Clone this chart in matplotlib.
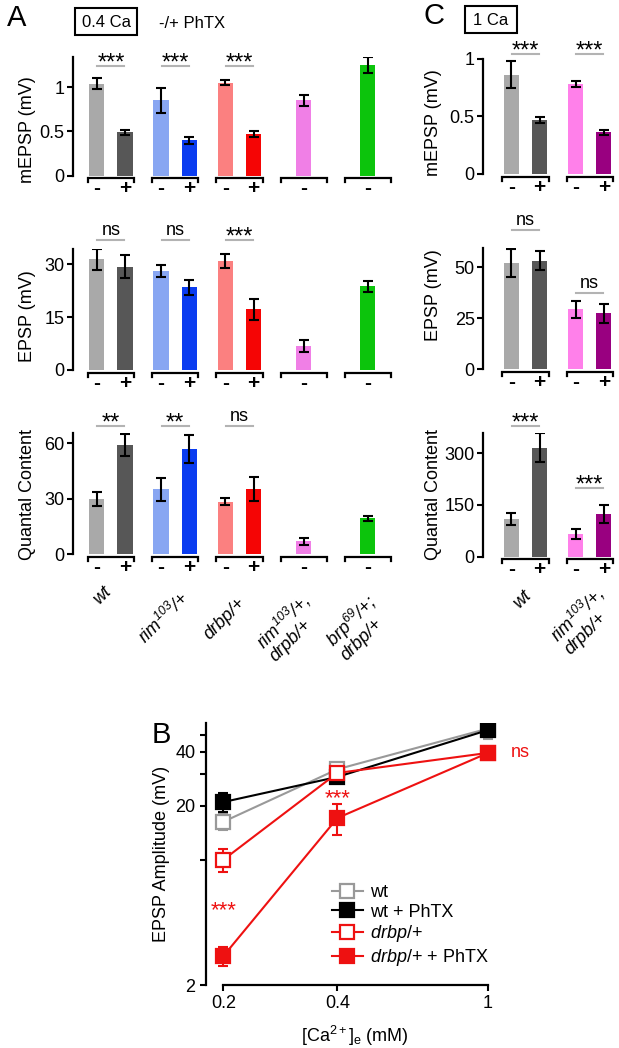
import matplotlib
matplotlib.use('Agg')
import matplotlib.pyplot as plt
import matplotlib.transforms as mtrans
from matplotlib.patches import Rectangle
from matplotlib.ticker import NullLocator

plt.rcParams['font.family'] = ['Liberation Sans', 'DejaVu Sans']
plt.rcParams['mathtext.fontset'] = 'custom'
plt.rcParams['mathtext.rm'] = 'Liberation Sans'
plt.rcParams['mathtext.it'] = 'Liberation Sans:italic'
plt.rcParams['mathtext.bf'] = 'Liberation Sans:bold'
plt.rcParams['mathtext.default'] = 'regular'

# ---------------- data: panel A (0.4 Ca) ----------------
A_genotypes = ['wt', 'rim$^{103}$/+', 'drbp/+', 'rim$^{103}$/+,\ndrpb/+', 'brp$^{69}$/+;\ndrbp/+']
A_bar_group = [0, 0, 1, 1, 2, 2, 3, 4]
A_bar_sign = ['-', '+', '-', '+', '-', '+', '-', '-']
A_colors = ['#a9a9a9', '#575757', '#88a6f2', '#0a3cf0', '#fb8080', '#f50505', '#f07fe6', '#0cc40c']
A_mepsp = [1.04, 0.49, 0.85, 0.40, 1.05, 0.47, 0.85, 1.25]
A_mepsp_err = [0.06, 0.03, 0.14, 0.04, 0.03, 0.03, 0.06, 0.09]
A_epsp = [31.4, 29.3, 28.1, 23.4, 30.8, 17.2, 6.8, 23.7]
A_epsp_err = [3.0, 3.3, 1.7, 2.2, 2.0, 2.9, 1.8, 1.6]
A_qc = [30.0, 59.0, 35.1, 57.0, 28.4, 35.3, 7.0, 19.5]
A_qc_err = [3.8, 6.0, 6.3, 7.6, 1.9, 6.5, 2.0, 1.4]
A_mepsp_sig = ['***', '***', '***']
A_epsp_sig = ['ns', 'ns', '***']
A_qc_sig = ['**', '**', 'ns']

# ---------------- data: panel C (1 Ca) ----------------
C_genotypes = ['wt', 'rim$^{103}$/+,\ndrpb/+']
C_bar_group = [0, 0, 1, 1]
C_bar_sign = ['-', '+', '-', '+']
C_colors = ['#a9a9a9', '#575757', '#ff80ea', '#990080']
C_mepsp = [0.86, 0.47, 0.78, 0.36]
C_mepsp_err = [0.115, 0.025, 0.03, 0.025]
C_epsp = [52.1, 53.3, 29.4, 27.4]
C_epsp_err = [7.0, 4.7, 4.3, 4.5]
C_qc = [109, 316, 65, 123]
C_qc_err = [17, 42, 15, 26]
C_mepsp_sig = ['***', '***']
C_epsp_sig = ['ns', 'ns']
C_qc_sig = ['***', '***']

# ---------------- data: panel B ----------------
B_ca = [0.2, 0.4, 1.0]
B_wt = [16.3, 32.0, 54.0]
B_wt_err = [1.6, 2.0, 6.5]
B_wt_phtx = [21.0, 29.0, 53.0]
B_wt_phtx_err = [2.6, 2.3, 3.0]
B_drbp = [10.0, 30.5, 39.5]
B_drbp_err = [1.5, 2.0, 2.0]
B_drbp_phtx = [2.9, 17.1, 39.5]
B_drbp_phtx_err = [0.35, 3.3, 2.5]

W, H = 619, 1048
fig = plt.figure(figsize=(W / 100, H / 100), dpi=100)
FS = 13


def add_ax(left, top, right, bottom):
    return fig.add_axes([left / W, 1 - bottom / H, (right - left) / W, (bottom - top) / H])


def ftext(x, y, s, **kw):
    return fig.text(x / W, 1 - y / H, s, **kw)


def bar_panel(ax, bar_group, signs, colors, vals, errs, sig, sig_y, ticks, ticklabels,
              xlim, ylim, ngroups):
    ax.set_xlim(*xlim)
    ax.set_ylim(*ylim)
    counts = [bar_group.count(g) for g in range(ngroups)]
    xs = []
    for i, g in enumerate(bar_group):
        if counts[g] == 2:
            first = bar_group.index(g) == i
            xs.append(g - 0.22 if first else g + 0.22)
        else:
            xs.append(g)
    ax.bar(xs, vals, width=0.235, color=colors, zorder=2)
    ax.errorbar(xs, vals, yerr=errs, fmt='none', ecolor='black', elinewidth=1.5,
                capsize=3.3, capthick=1.5, zorder=3)
    for x, s in zip(xs, signs):
        ax.annotate(s, xy=(x, 0), xycoords=('data', 'axes fraction'), xytext=(0, -9.5),
                    textcoords='offset points', ha='center', va='center',
                    fontsize=15, fontweight='bold')
    bbox = ax.get_position()
    hpx = bbox.height * H
    trans = mtrans.blended_transform_factory(ax.transData, ax.transAxes) + \
        mtrans.ScaledTranslation(0, -2.5 / 100, fig.dpi_scale_trans)
    tk = 4.0 / hpx
    for g in range(ngroups):
        ax.plot([g - 0.36, g - 0.36, g + 0.36, g + 0.36], [-tk, 0, 0, -tk], color='black',
                lw=1.6, transform=trans, clip_on=False, solid_joinstyle='miter')
    for g, (s, y) in enumerate(zip(sig, sig_y)):
        ax.plot([g - 0.21, g + 0.21], [y, y], color='#b3b3b3', lw=1.5, clip_on=False)
        if s == 'ns':
            ax.annotate(s, xy=(g, y), xytext=(0, 3.5), textcoords='offset points',
                        ha='center', va='baseline', fontsize=FS, annotation_clip=False)
        else:
            ax.annotate(s, xy=(g, y), xytext=(0, -2.5), textcoords='offset points',
                        ha='center', va='baseline', fontsize=17, annotation_clip=False)
    ax.set_yticks(ticks)
    ax.set_yticklabels(ticklabels, fontsize=FS)
    ax.set_xticks([])
    for sp in ['top', 'right', 'bottom']:
        ax.spines[sp].set_visible(False)
    ax.spines['left'].set_linewidth(1.6)
    ax.tick_params(axis='y', length=4, width=1.5, pad=2)
    return xs


A_left, A_right = 73, 73 + (4.45 + 0.59) * 64.25
A_xlim = (-0.59, 4.45)
axA1 = add_ax(A_left, 57, A_right, 175.7)
bar_panel(axA1, A_bar_group, A_bar_sign, A_colors, A_mepsp, A_mepsp_err, A_mepsp_sig,
          [1.24] * 3, [0, 0.5, 1], ['0', '0.5', '1'], A_xlim, (0, 1.34), 5)
axA2 = add_ax(A_left, 249, A_right, 370)
bar_panel(axA2, A_bar_group, A_bar_sign, A_colors, A_epsp, A_epsp_err, A_epsp_sig,
          [36.8] * 3, [0, 15, 30], ['0', '15', '30'], A_xlim, (0, 34.3), 5)
axA3 = add_ax(A_left, 433, A_right, 554.3)
bar_panel(axA3, A_bar_group, A_bar_sign, A_colors, A_qc, A_qc_err, A_qc_sig,
          [69.4] * 3, [0, 30, 60], ['0', '30', '60'], A_xlim, (0, 65.6), 5)

C_left, C_right = 483, 483 + (1.4 + 0.66) * 64.25
C_xlim = (-0.66, 1.4)
axC1 = add_ax(C_left, 58.6, C_right, 174)
bar_panel(axC1, C_bar_group, C_bar_sign, C_colors, C_mepsp, C_mepsp_err, C_mepsp_sig,
          [1.04, 1.04], [0, 0.5, 1], ['0', '0.5', '1'], C_xlim, (0, 1.0), 2)
axC2 = add_ax(C_left, 248, C_right, 369)
bar_panel(axC2, C_bar_group, C_bar_sign, C_colors, C_epsp, C_epsp_err, C_epsp_sig,
          [68.5, 37.6], [0, 25, 50], ['0', '25', '50'], C_xlim, (0, 59.6), 2)
axC3 = add_ax(C_left, 433.3, C_right, 556.7)
bar_panel(axC3, C_bar_group, C_bar_sign, C_colors, C_qc, C_qc_err, C_qc_sig,
          [379, 198], [0, 150, 300], ['0', '150', '300'], C_xlim, (0, 358), 2)

# genotype labels (offsets in pixels from group centre at axis zero)
A_lab_off = [(-8, -29), (4, -34), (-2.5, -40), (-5, -36), (-3, -36)]
for g, (lab, (dx, dy)) in enumerate(zip(A_genotypes, A_lab_off)):
    axA3.annotate(lab, xy=(g, 0), xycoords=('data', 'axes fraction'),
                  xytext=(dx * 0.72, dy * 0.72), textcoords='offset points',
                  rotation=45, rotation_mode='anchor', ha='right', va='top',
                  multialignment='left', fontsize=13, fontstyle='italic', linespacing=1.0)
C_lab_off = [(-2.5, -30), (3.5, -26)]
for g, (lab, (dx, dy)) in enumerate(zip(C_genotypes, C_lab_off)):
    axC3.annotate(lab, xy=(g, 0), xycoords=('data', 'axes fraction'),
                  xytext=(dx * 0.72, dy * 0.72), textcoords='offset points',
                  rotation=45, rotation_mode='anchor', ha='right', va='top',
                  multialignment='left', fontsize=13, fontstyle='italic', linespacing=1.0)

for (x, y, s) in [(27, 130, 'mEPSP (mV)'), (27, 316, 'EPSP (mV)'), (27, 494, 'Quantal Content'),
                  (433, 123, 'mEPSP (mV)'), (433, 295, 'EPSP (mV)'), (433, 495, 'Quantal Content')]:
    ftext(x, y, s, rotation=90, ha='center', va='center', fontsize=FS)

ftext(17, 18, 'A', fontsize=21, ha='center', va='center')
ftext(434, 16, 'C', fontsize=21, ha='center', va='center')
ftext(161, 735, 'B', fontsize=21, ha='center', va='center')
for (l, t, r, b, s) in [(75, 8, 137, 35, '0.4 Ca'), (465, 6, 517, 33, '1 Ca')]:
    fig.patches.append(Rectangle((l / W, 1 - b / H), (r - l) / W, (b - t) / H,
                                 transform=fig.transFigure, fill=False, lw=1.5,
                                 edgecolor='black'))
    ftext((l + r) / 2, (t + b) / 2 + 1, s, fontsize=12, ha='center', va='center')
ftext(192, 23, '-/+ PhTX', fontsize=12, ha='center', va='center')

# ---------------- panel B ----------------
axB = add_ax(206, 723, 500, 985)
axB.set_xscale('log')
axB.set_yscale('log')
axB.set_xlim(0.18, 1.075)
axB.set_ylim(2, 58)
series = [
    (B_wt, B_wt_err, '#999999', 'white', 'wt'),
    (B_wt_phtx, B_wt_phtx_err, 'black', 'black', 'wt + PhTX'),
    (B_drbp, B_drbp_err, '#ee1111', 'white', r'$\mathit{drbp}$/+'),
    (B_drbp_phtx, B_drbp_phtx_err, '#ee1111', '#ee1111', r'$\mathit{drbp}$/+ + PhTX'),
]
for vals, errs, col, face, lab in series:
    axB.errorbar(B_ca, vals, yerr=errs, fmt='none', ecolor=col, elinewidth=1.5,
                 capsize=3.5, capthick=1.5, zorder=2)
for vals, errs, col, face, lab in series:
    axB.plot(B_ca, vals, '-s', color=col, mfc=face, mec=col, ms=9.5, mew=1.6, lw=1.5,
             label=lab, zorder=3)
axB.set_xticks(B_ca)
axB.set_xticklabels(['0.2', '0.4', '1'], fontsize=FS)
axB.xaxis.set_minor_locator(NullLocator())
axB.set_yticks([2, 10, 20, 30, 40, 50])
axB.set_yticklabels(['2', '', '20', '', '40', ''], fontsize=FS)
axB.yaxis.set_minor_locator(NullLocator())
for sp in ['top', 'right']:
    axB.spines[sp].set_visible(False)
axB.spines['left'].set_linewidth(1.6)
axB.spines['bottom'].set_linewidth(1.6)
axB.spines['bottom'].set_bounds(0.2, 1.0)
axB.tick_params(axis='both', length=4.5, width=1.5, pad=3)
axB.annotate('***', xy=(0.2, 5.2), ha='center', va='center', color='#ee1111', fontsize=16)
axB.annotate('***', xy=(0.4, 22.0), ha='center', va='center', color='#ee1111', fontsize=16)
axB.annotate('ns', xy=(1.0, 39.5), xytext=(16, 0), textcoords='offset points',
             ha='left', va='center', color='#ee1111', fontsize=FS, annotation_clip=False)
ftext(162, 854, 'EPSP Amplitude (mV)', rotation=90, ha='center', va='center', fontsize=FS)
ftext(355, 1036, r'[Ca$^{2+}$]$_{e}$ (mM)', ha='center', va='center', fontsize=FS)
axB.legend(loc='upper left', bbox_to_anchor=(332 / W, 1 - 884 / H),
           bbox_transform=fig.transFigure, frameon=False, fontsize=FS,
           handlelength=1.7, handletextpad=0.4, labelspacing=0.15, borderpad=0,
           borderaxespad=0)

fig.savefig('out.png', dpi=100)
